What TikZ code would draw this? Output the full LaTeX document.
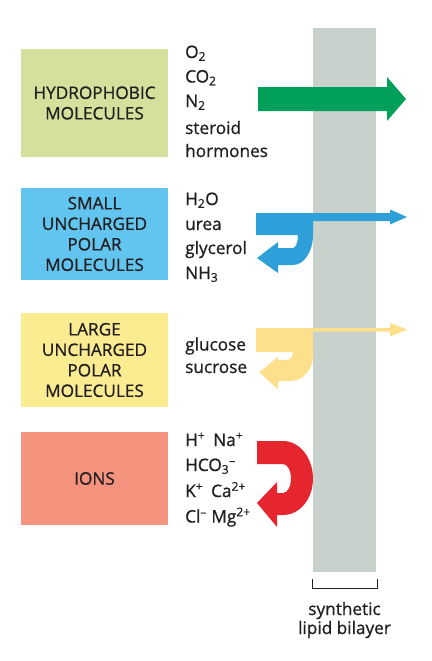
\documentclass[tikz,border=0pt]{standalone}
\usepackage{fontspec}
\setmainfont{Open Sans}[FakeBold=0.9]
\definecolor{txtc}{HTML}{231F20}
\definecolor{greenbox}{HTML}{D4E09B}
\definecolor{bluebox}{HTML}{62C5F0}
\definecolor{yellowbox}{HTML}{FBEC91}
\definecolor{redbox}{HTML}{F4937E}
\definecolor{bilayer}{HTML}{C8D1CC}
\definecolor{greenarrow}{HTML}{00A05A}
\definecolor{bluearrow}{HTML}{2E9FD9}
\definecolor{yellowarrow}{HTML}{FDDF8C}
\definecolor{redarrow}{HTML}{E5262F}
\begin{document}
\begin{tikzpicture}[x=1pt,y=-1pt,
  catbox/.style={minimum width=147pt, inner sep=0pt, align=center, text=txtc,
    font=\fontsize{17.2}{20.5}\selectfont},
  listtxt/.style={anchor=base west, inner sep=0pt, text=txtc,
    font=\fontsize{17.2}{20}\selectfont},
  captxt/.style={anchor=base, inner sep=0pt, text=txtc,
    font=\fontsize{17.2}{20}\selectfont}]
\useasboundingbox (0,0) rectangle (431,661);

% category boxes
\node[catbox, fill=greenbox, minimum height=108pt] (hyd) at (94.5,103) {HYDROPHOBIC\\MOLECULES};
\node[catbox, fill=bluebox, minimum height=92pt] (small) at (94.5,234) {SMALL\\UNCHARGED\\POLAR\\MOLECULES};
\node[catbox, fill=yellowbox, minimum height=94pt] (large) at (94.5,360) {LARGE\\UNCHARGED\\POLAR\\MOLECULES};
\node[catbox, fill=redbox, minimum height=93pt] (ions) at (94.5,478.5) {IONS};

% lists
\node[listtxt] (o2) at (185,58) {O\textsubscript{2}};
\node[listtxt] (co2) at (185,82.5) {CO\textsubscript{2}};
\node[listtxt] (n2) at (185,107) {N\textsubscript{2}};
\node[listtxt] (ster) at (185,134) {steroid};
\node[listtxt] (horm) at (185,157) {hormones};

\node[listtxt] (h2o) at (185,205) {H\textsubscript{2}O};
\node[listtxt] (urea) at (185,230) {urea};
\node[listtxt] (glyc) at (185,254) {glycerol};
\node[listtxt] (nh3) at (185,279) {NH\textsubscript{3}};

\node[listtxt] (gluc) at (185,350.5) {glucose};
\node[listtxt] (sucr) at (185,373) {sucrose};

\node[listtxt] (hna) at (185,446) {H\textsuperscript{+}\hspace{8pt}Na\textsuperscript{+}};
\node[listtxt] (hco) at (185,471) {HCO\textsubscript{3}\textsuperscript{–}};
\node[listtxt] (kca) at (185,497) {K\textsuperscript{+}\hspace{8pt}Ca\textsuperscript{2+}};
\node[listtxt] (clmg) at (185,522.5) {Cl\textsuperscript{–} Mg\textsuperscript{2+}};

% bilayer
\fill[bilayer] (313,28) rectangle (376,572);
\coordinate (bl) at (312,579);
\coordinate (br) at (377,579);
\draw[txtc, line width=1pt] (bl) -- ++(0,9) -| (br);
\node[captxt] (syn) at (344.5,615) {synthetic};
\node[captxt] (lip) at (344.5,634) {lipid bilayer};

% green arrow
\fill[greenarrow] (258,87) -- (387,87) -- (387,77) -- (406,99) -- (387,121) -- (387,111) -- (258,111) -- cycle;

% blue arrows
\fill[bluearrow] (300,213) -- (390,213) -- (390,209.5) -- (407,217) -- (390,224.5) -- (390,221) -- (300,221) -- cycle;
\fill[bluearrow] (256,213) -- (313,213) -- (313,235)
  .. controls (313,251.6) and (304,265) .. (293,265) -- (278,265) -- (278,273)
  -- (257,258) -- (278,242) -- (278,248) -- (293,248)
  .. controls (295.8,248) and (298,242.2) .. (298,235) -- (256,235) -- cycle;

% yellow arrows
\fill[yellowarrow] (300,328) -- (390,328) -- (390,323) -- (407.5,329.7) -- (390,336.4) -- (390,331.5) -- (300,331.5) -- cycle;
\fill[yellowarrow] (256,328) -- (313,328) -- (313,356)
  .. controls (313,369.8) and (302.7,381) .. (290,381) -- (278,381) -- (278,389.3)
  -- (259.3,372.3) -- (278,356.7) -- (278,360) -- (286,360)
  .. controls (290,360) and (293,357) .. (293,352) -- (256,352) -- cycle;

% red arrow
\fill[redarrow] (257,441) -- (283,441)
  .. controls (299.6,441) and (313,457.8) .. (313,478.5)
  .. controls (313,499.2) and (299.6,515) .. (283,515) -- (277,515) -- (277,527)
  -- (257,503) -- (277,482) -- (277,493) -- (283,493)
  .. controls (287.4,493) and (291,486.5) .. (291,478.5)
  .. controls (291,470.5) and (287.4,464) .. (283,464) -- (257,464) -- cycle;
\end{tikzpicture}
\end{document}
